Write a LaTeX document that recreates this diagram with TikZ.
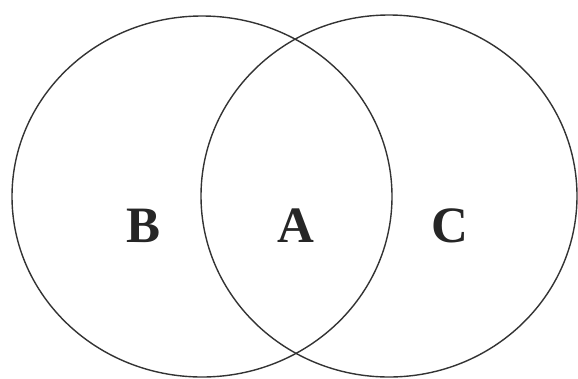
\documentclass[tikz,border=0pt]{standalone}
\usepackage{fontspec}
\setmainfont{Liberation Serif}
\begin{document}
\begin{tikzpicture}[x=1pt,y=-1pt,
  ring/.style={draw=black!80,line width=1.4pt},
  lbl/.style={font=\fontsize{51}{51}\selectfont\bfseries,text=black!85,anchor=base,inner sep=0pt}]
\useasboundingbox[fill=white] (0,0) rectangle (578,378);
\draw[ring] (202,196.5) ellipse [x radius=190, y radius=180.5];
\draw[ring] (389,196) ellipse [x radius=188, y radius=181];
\node[lbl] (B) at (144,242) {B};
\node[lbl] (A) at (296,242) {A};
\node[lbl] (C) at (450,242) {C};
\end{tikzpicture}
\end{document}
